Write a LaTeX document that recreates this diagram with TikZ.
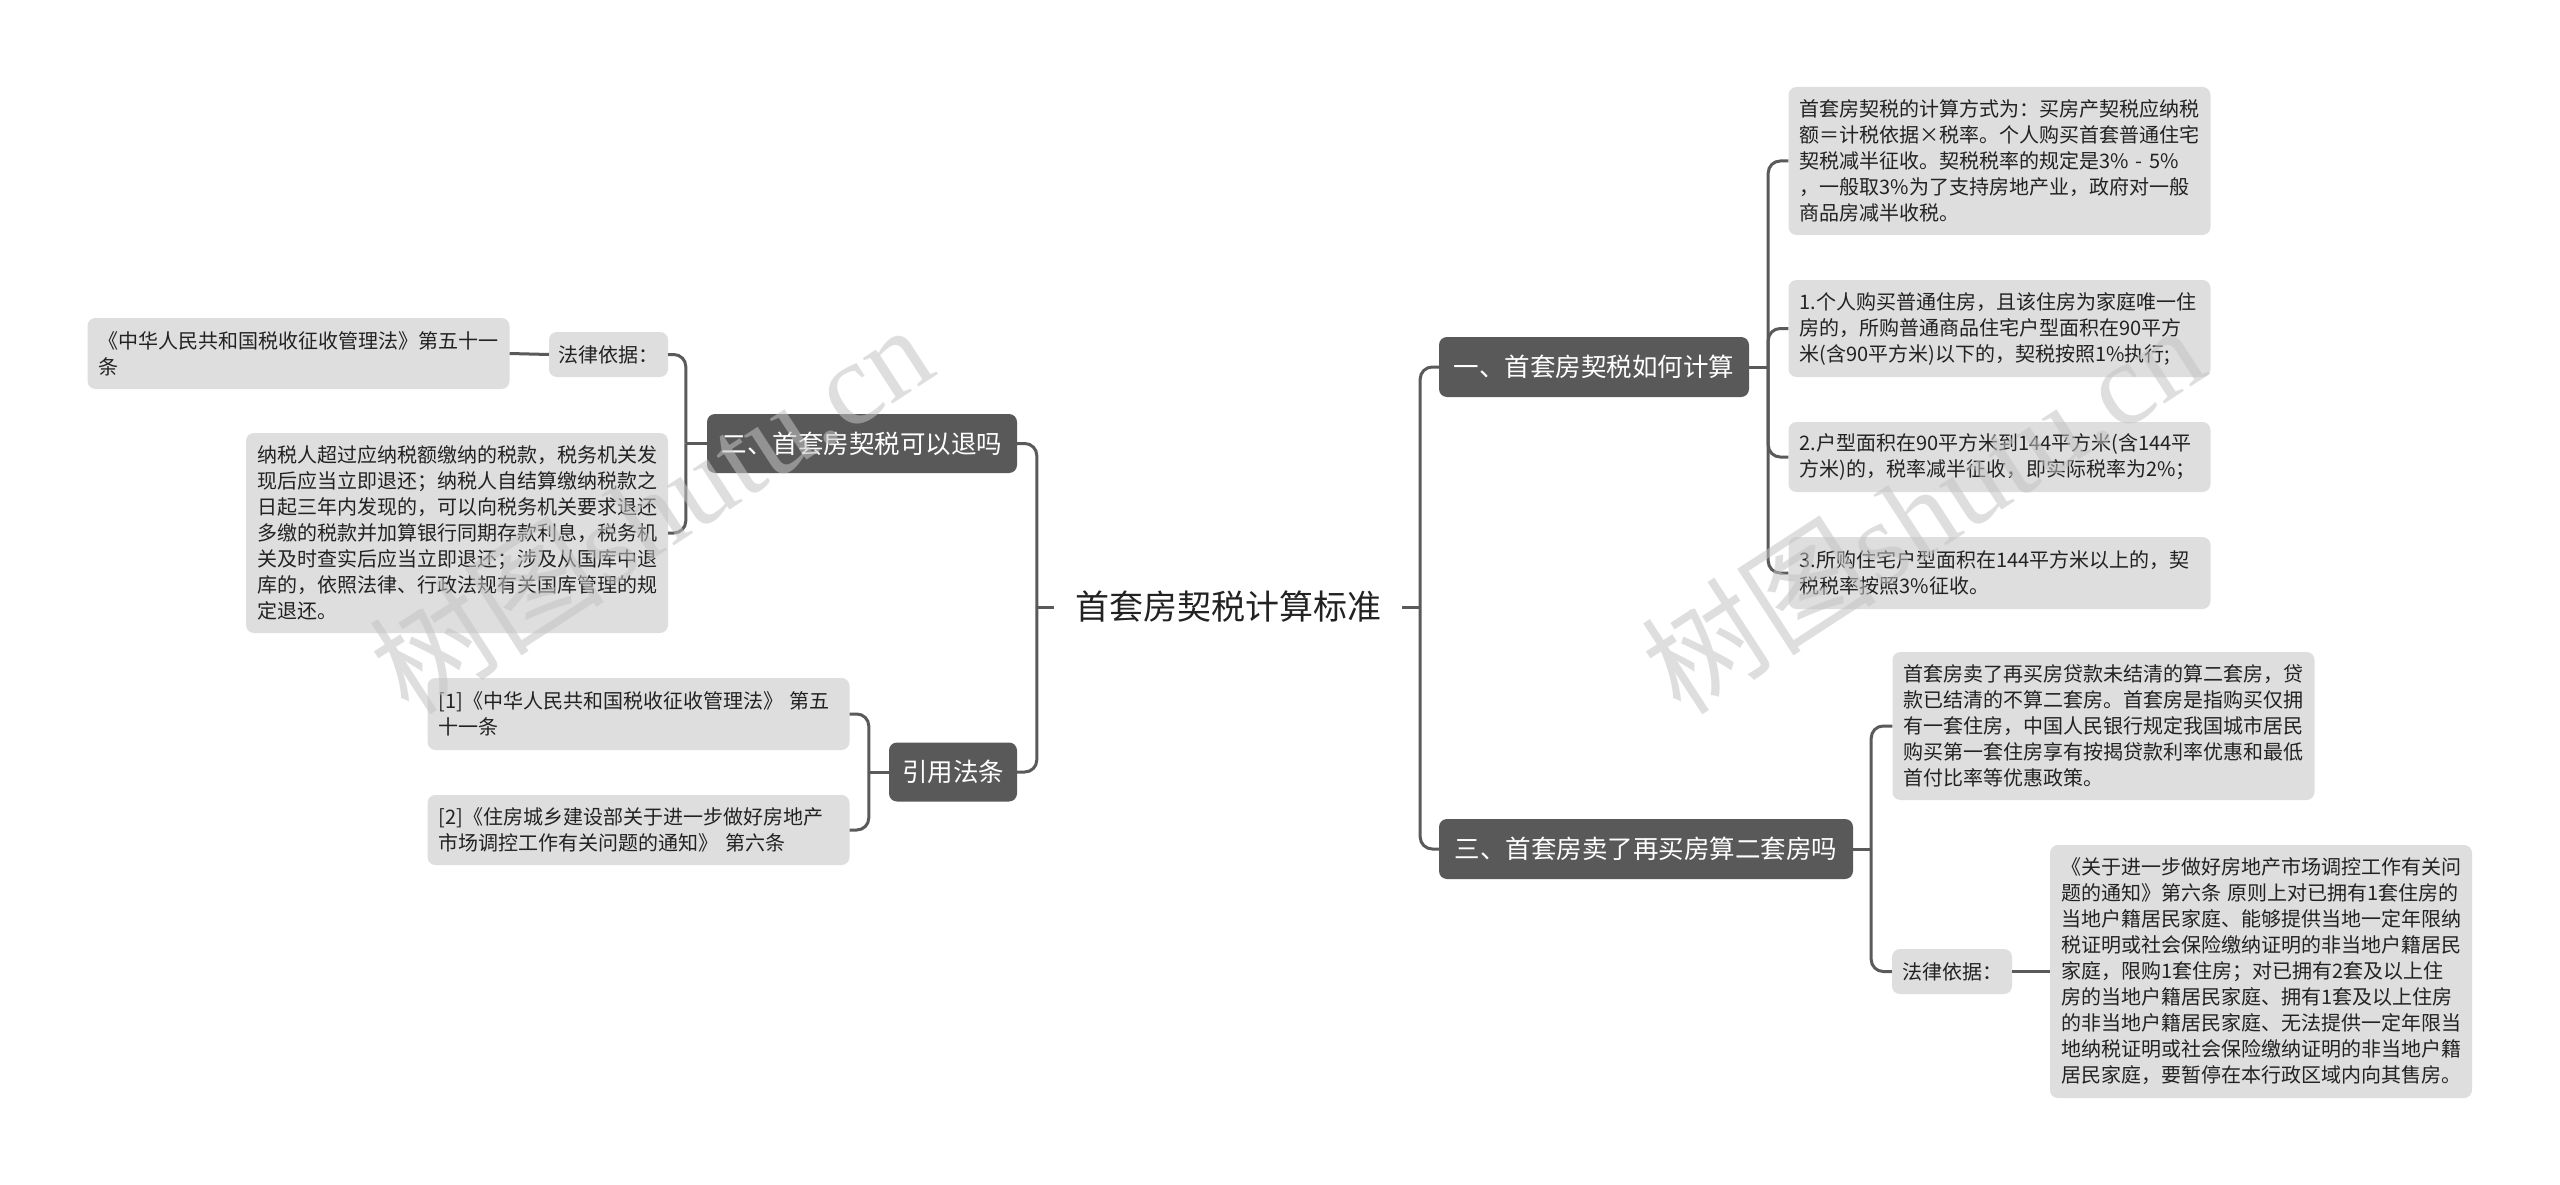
\documentclass[tikz,border=0pt]{standalone}
\usepackage{fontspec}
\setmainfont{Noto Sans CJK SC}
\newfontfamily\wmserif{Liberation Serif}
\newfontfamily\wmcjk{Noto Sans CJK SC}
\definecolor{branchfill}{HTML}{595959}
\definecolor{leaffill}{HTML}{DEDEDE}
\definecolor{linec}{HTML}{5A5A5A}
\definecolor{txt}{HTML}{222222}
\definecolor{wm}{HTML}{C4C4C4}
\tikzset{
  leaf/.style={fill=leaffill, rounded corners=8pt, text=txt,
    font=\fontsize{20}{26}\selectfont, align=left, text width=400pt,
    inner xsep=11pt, inner ysep=0pt},
  tag/.style={fill=leaffill, rounded corners=8pt, text=txt,
    font=\fontsize{20}{26}\selectfont, align=center, inner sep=0pt},
  branch/.style={fill=branchfill, rounded corners=8pt, text=white,
    font=\fontsize{25.5}{30}\selectfont, align=center, inner sep=0pt},
  rootnode/.style={text=txt, font=\fontsize{34}{40}\selectfont,
    minimum width=348pt, inner sep=0pt},
  conn/.style={draw=linec, line width=3pt, rounded corners=12pt},
  wmark/.style={text=wm, opacity=0.55, font=\fontsize{118}{124}\selectfont, inner sep=0pt}
}
\begin{document}
\begin{tikzpicture}[x=1pt,y=-1pt]
\useasboundingbox (0,0) rectangle (2560,1185);
\fill[white] (0,0) rectangle (2560,1185);

% root
\node[rootnode] (root) at (1228,607) {首套房契税计算标准};

% branches
\node[branch, minimum width=310pt, minimum height=60pt] (R1) at (1594,367) {一、首套房契税如何计算};
\node[branch, minimum width=414pt, minimum height=60pt] (R3) at (1646,849) {三、首套房卖了再买房算二套房吗};
\node[branch, minimum width=310pt, minimum height=59pt] (L2) at (862,443.5) {二、首套房契税可以退吗};
\node[branch, minimum width=128pt, minimum height=59pt] (L4) at (953,772) {引用法条};

% right leaves
\node[leaf, minimum height=148pt] (R1a) at (1999.5,161) {首套房契税的计算方式为：买房产契税应纳税\\额＝计税依据×税率。个人购买首套普通住宅\\契税减半征收。契税税率的规定是3\% - 5\%\\，一般取3\%为了支持房地产业，政府对一般\\商品房减半收税。};
\node[leaf, minimum height=97pt] (R1b) at (1999.5,328.5) {1.个人购买普通住房，且该住房为家庭唯一住\\房的，所购普通商品住宅户型面积在90平方\\米(含90平方米)以下的，契税按照1\%执行;};
\node[leaf, minimum height=70pt] (R1c) at (1999.5,457) {2.户型面积在90平方米到144平方米(含144平\\方米)的，税率减半征收，即实际税率为2\%；};
\node[leaf, minimum height=72pt] (R1d) at (1999.5,573) {3.所购住宅户型面积在144平方米以上的，契\\税税率按照3\%征收。};

\node[leaf, minimum height=148pt] (R3a) at (2103.5,726) {首套房卖了再买房贷款未结清的算二套房，贷\\款已结清的不算二套房。首套房是指购买仅拥\\有一套住房，中国人民银行规定我国城市居民\\购买第一套住房享有按揭贷款利率优惠和最低\\首付比率等优惠政策。};
\node[tag, minimum width=120pt, minimum height=45pt] (R3b) at (1952,971.5) {法律依据：};
\node[leaf, minimum height=253pt] (R3c) at (2261,971.5) {《关于进一步做好房地产市场调控工作有关问\\题的通知》第六条 原则上对已拥有1套住房的\\当地户籍居民家庭、能够提供当地一定年限纳\\税证明或社会保险缴纳证明的非当地户籍居民\\家庭，限购1套住房；对已拥有2套及以上住\\房的当地户籍居民家庭、拥有1套及以上住房\\的非当地户籍居民家庭、无法提供一定年限当\\地纳税证明或社会保险缴纳证明的非当地户籍\\居民家庭，要暂停在本行政区域内向其售房。};

% left leaves
\node[tag, minimum width=119pt, minimum height=45pt] (L2a) at (608.5,354.5) {法律依据：};
\node[leaf, minimum height=71pt] (L2a1) at (298.5,353.5) {《中华人民共和国税收征收管理法》第五十一\\条};
\node[leaf, minimum height=200pt] (L2b) at (457,533) {纳税人超过应纳税额缴纳的税款，税务机关发\\现后应当立即退还；纳税人自结算缴纳税款之\\日起三年内发现的，可以向税务机关要求退还\\多缴的税款并加算银行同期存款利息，税务机\\关及时查实后应当立即退还；涉及从国库中退\\库的，依照法律、行政法规有关国库管理的规\\定退还。};
\node[leaf, minimum height=72pt] (L41) at (638.5,714) {[1]《中华人民共和国税收征收管理法》 第五\\十一条};
\node[leaf, minimum height=70pt] (L42) at (638.5,830) {[2]《住房城乡建设部关于进一步做好房地产\\市场调控工作有关问题的通知》 第六条};

% connectors: root
\draw[conn] (root.east) -- ++(18,0) coordinate (rsp);
\draw[conn] (rsp) |- (R1.west);
\draw[conn] (rsp) |- (R3.west);
\draw[conn] (root.west) -- ++(-17,0) coordinate (lsp);
\draw[conn] (lsp) |- (L2.east);
\draw[conn] (lsp) |- (L4.east);
% R1
\draw[conn] (R1.east) -- ++(19,0) coordinate (r1sp);
\draw[conn] (r1sp) |- (R1a.west);
\draw[conn] (r1sp) |- (R1b.west);
\draw[conn] (r1sp) |- (R1c.west);
\draw[conn] (r1sp) |- (R1d.west);
% R3
\draw[conn] (R3.east) -- ++(18,0) coordinate (r3sp);
\draw[conn] (r3sp) |- (R3a.west);
\draw[conn] (r3sp) |- (R3b.west);
\draw[conn] (R3b.east) -- (R3c.west);
% L2
\draw[conn] (L2.west) -- ++(-21,0) coordinate (l2sp);
\draw[conn] (l2sp) |- (L2a.east);
\draw[conn] (l2sp) |- (L2b.east);
\draw[conn] (L2a.west) -- (L2a1.east);
% L4
\draw[conn] (L4.west) -- ++(-20,0) coordinate (l4sp);
\draw[conn] (l4sp) |- (L41.east);
\draw[conn] (l4sp) |- (L42.east);

% watermarks
\node[wmark, rotate=33] (wm1) at (650,508) {\wmcjk 树图\wmserif shutu.cn};
\node[wmark, rotate=33] (wm2) at (1922,508) {\wmcjk 树图\wmserif shutu.cn};
\end{tikzpicture}
\end{document}
